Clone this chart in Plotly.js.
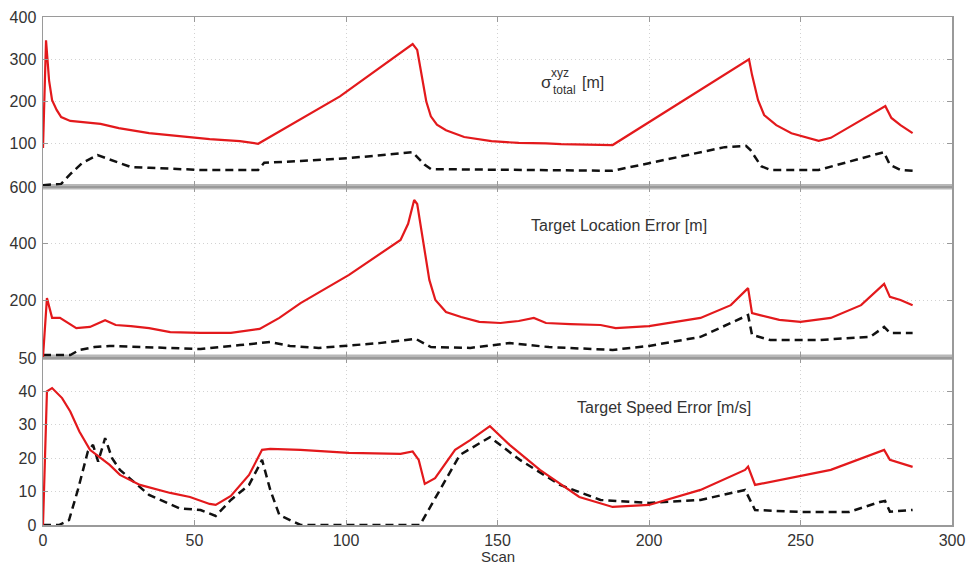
<!DOCTYPE html>
<html>
<head>
<meta charset="utf-8">
<script src="https://cdn.plot.ly/plotly-3.0.1.min.js"></script>
<style>html,body{margin:0;padding:0;background:#fff;}#chart{width:972px;height:565px;}</style>
</head>
<body>
<div id="chart"></div>
<script>
// ---- Data ----
// Panel 1: sigma_total^xyz [m]
const sigScanRed = [0,1,2,3,4.5,6,9,14,19,25,35,45,55,65,71,98,122,123.5,125,126.5,128,130,133,139,148,157,166,171,188,233,234,236,238,242,247,252,256,260,278,280,283,287];
const sigRed     = [90,345,250,203,180,163,154,151,147,137,125,118,111,106,100,212,336,322,260,200,165,145,132,116,106,102,101,99,97,300,263,203,168,144,125,114,107,114,189,161,144,125];
const sigScanBlk = [0,6,9,13,18,24,29,35,52,71,73,85,101,122,126,128,151,188,200,217,225,232,233.5,237,240,256,266,277.5,279.5,283,287];
const sigBlk     = [2,5,28,55,73,57,45,43,38,38,55,59,66,80,50,40,38,36,54,80,92,95,85,47,38,38,57,80,50,38,36];

// Panel 2: Target Location Error [m]
const tleScanRed = [0,1.3,3,5.6,11,15.5,20.5,24,29,35,42,52,62,71.5,78,85,101,118,120.5,122.5,123.5,125.5,127.5,129.5,133,138,144,151,157,162,166,174,184,189,200,217,227,232.7,234,236.6,243,250,260,270,277.6,279.5,283,287];
const tleRed     = [0,208,138,138,102,106,130,113,109,102,88,85,85,99,138,190,290,413,470,554,540,413,272,201,159,141,124,120,127,138,120,116,113,102,109,138,183,243,155,148,131,124,138,183,258,212,201,183];
const tleScanBlk = [0,9,12,17,22,35,45,52,65,75,81.5,91,111,123,128,141,154,167,188,200,217,232.7,234,240,256,273,277.6,279.5,287];
const tleBlk     = [7,7,25,35,39,35,32,28,42,53,39,32,49,64,35,32,49,35,25,39,71,148,78,60,60,71,106,85,85];

// Panel 3: Target Speed Error [m/s]
const tseScanRed = [0,1.3,3,5,6.3,9,12,15.5,19,22,25.4,32,42,48.5,55,57,62,68,72.3,75,85,101,118,122,124,126,129.4,136,141,147.5,154,164,177,188,200,217,231.7,232.7,235,243,260,277.6,279.5,287];
const tseRed     = [0,40,41,39,38,34,28,22.5,20,18,15,12,9.6,8.4,6.3,6,8.7,15,22.5,22.8,22.5,21.6,21.3,22,19.5,12.3,14,22.5,25.4,29.6,24,16.5,8.4,5.4,6,10.5,16.5,17.5,12,13.5,16.5,22.5,19.5,17.4];
const tseScanBlk = [0,5.3,8.6,11.5,14.8,16.5,18.2,20.5,22.8,25.4,35,45,52,57,62,68,72.3,75,78,85,124.4,131,137.6,147.5,157.4,170.6,184,200,217,231.7,235,250,266,276.2,277.9,279.5,287];
const tseBlk     = [0,0,1.5,10.5,22,24,19,26,20,16.5,9,5,4.5,2.7,7.5,12,19.5,10.5,3,0,0,10.5,21,26.3,19.5,12,7.5,6.6,7.5,10.5,4.5,3.9,3.9,6.9,7.2,4,4.5];

const xTicks = [0,50,100,150,200,250,300];
const xTickText = ['0','50','100','150','200','250','300'];
const sigTicks = [100,200,300,400];
const tleTicks = [200,400,600];
const tseTicks = [0,10,20,30,40,50];

// ---- Styles ----
const RED = '#e3191c';
const redLine = {color: RED, width: 2.2};
const blkLine = {color: '#111', width: 2.5, dash: '8px,5px'};
const FONT = 'Arial, "Liberation Sans", Helvetica, sans-serif';

const traces = [
  {x: sigScanBlk, y: sigBlk, xaxis: 'x', yaxis: 'y', mode: 'lines', line: blkLine},
  {x: sigScanRed, y: sigRed, xaxis: 'x', yaxis: 'y', mode: 'lines', line: redLine},
  {x: tleScanBlk, y: tleBlk, xaxis: 'x2', yaxis: 'y2', mode: 'lines', line: blkLine},
  {x: tleScanRed, y: tleRed, xaxis: 'x2', yaxis: 'y2', mode: 'lines', line: redLine},
  {x: tseScanBlk, y: tseBlk, xaxis: 'x3', yaxis: 'y3', mode: 'lines', line: blkLine},
  {x: tseScanRed, y: tseRed, xaxis: 'x3', yaxis: 'y3', mode: 'lines', line: redLine}
];

function xAxis(anchor, labels) {
  return {
    domain: [0, 1], range: [0, 300], anchor: anchor,
    tickmode: 'array', tickvals: xTicks, ticktext: xTickText,
    showticklabels: labels, ticks: 'inside', ticklen: 5, tickcolor: '#999',
    showline: true, linecolor: '#9a9a9a', linewidth: 1.5, mirror: 'ticks',
    showgrid: true, gridcolor: '#d2d2d2', griddash: '1px,3px', gridwidth: 1,
    zeroline: false, fixedrange: true,
    tickfont: {family: FONT, size: 16, color: '#333'}
  };
}
function yAxis(anchor, domain, range, ticks) {
  return {
    domain: domain, range: range, anchor: anchor,
    tickmode: 'array', tickvals: ticks,
    ticks: 'inside', ticklen: 5, tickcolor: '#999',
    showline: true, linecolor: '#9a9a9a', linewidth: 1.5, mirror: 'ticks',
    showgrid: true, gridcolor: '#d2d2d2', griddash: '1px,3px', gridwidth: 1,
    zeroline: false, fixedrange: true, ticklabelstandoff: 2,
    tickfont: {family: FONT, size: 16, color: '#333'}
  };
}

// pixel -> paper helpers for text placement
const L = 43, R = 952, T = 17, B = 525;
const px = v => (v - L) / (R - L);
const py = v => (B - v) / (B - T);

function ann(text, x, y, size) {
  return {text: text, xref: 'paper', yref: 'paper', x: px(x), y: py(y),
          xanchor: 'center', yanchor: 'middle', showarrow: false,
          font: {family: FONT, size: size, color: '#333'}};
}

const layout = {
  width: 972, height: 565,
  margin: {l: L, r: 972 - R, t: T, b: 565 - B},
  paper_bgcolor: '#fff', plot_bgcolor: 'rgba(0,0,0,0)',
  showlegend: false,
  xaxis: xAxis('y', false),
  yaxis: yAxis('x', [py(186), 1], [0, 400], sigTicks),
  xaxis2: xAxis('y2', false),
  yaxis2: yAxis('x2', [py(357), py(187)], [0, 600], tleTicks),
  xaxis3: xAxis('y3', true),
  yaxis3: yAxis('x3', [0, py(358)], [0, 50], tseTicks),
  shapes: [
    {type: 'rect', xref: 'paper', yref: 'paper', x0: 0, x1: 1, y0: py(189.5), y1: py(184), fillcolor: '#b8b8b8', line: {width: 0}, layer: 'below'},
    {type: 'rect', xref: 'paper', yref: 'paper', x0: 0, x1: 1, y0: py(360), y1: py(354.5), fillcolor: '#b8b8b8', line: {width: 0}, layer: 'below'}
  ],
  annotations: [
    ann('σ', 546, 82, 17),
    ann('xyz', 560, 73, 12),
    ann('total', 564, 90, 12),
    ann('[m]', 593, 82, 16),
    ann('Target Location Error [m]', 619, 225, 16),
    ann('Target Speed Error [m/s]', 664, 407, 16),
    ann('Scan', 498, 556, 15)
  ]
};

Plotly.newPlot('chart', traces, layout, {staticPlot: true, displayModeBar: false});
</script>
</body>
</html>
